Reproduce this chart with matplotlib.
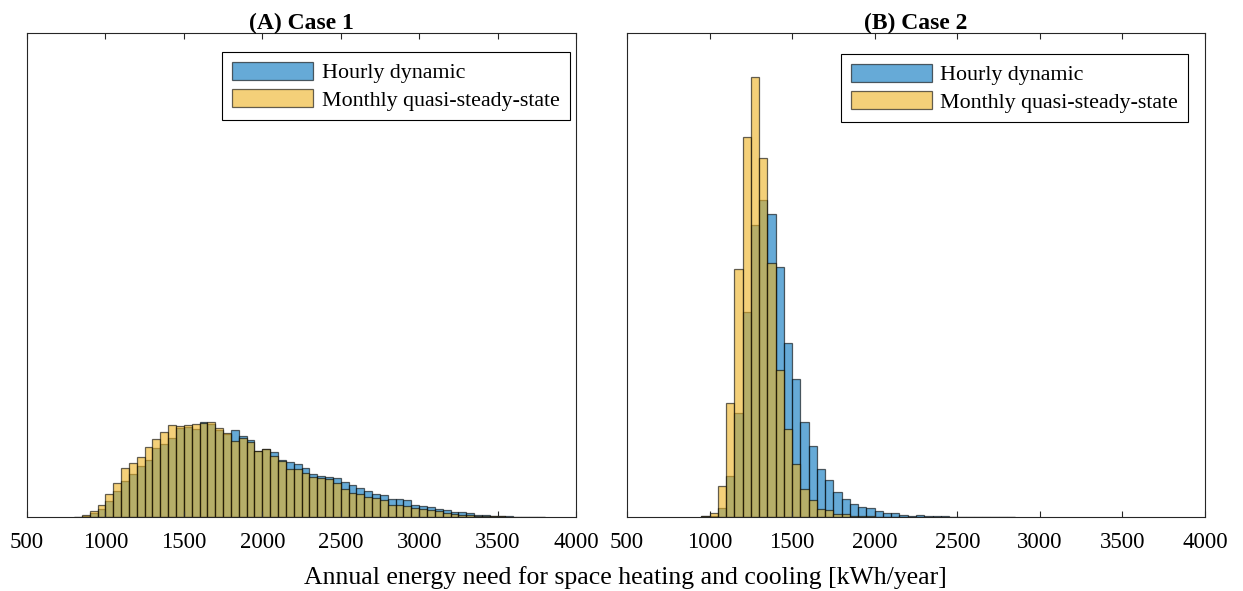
import numpy as np
import matplotlib
matplotlib.use("Agg")
import matplotlib.pyplot as plt

plt.rcParams['font.family'] = ['Liberation Serif', 'DejaVu Serif']

# bar heights (arbitrary units), bin width 50 kWh/year
bin_width = 50

# (A) Case 1, bins start at 800
case1_start = 800
case1_hourly = [0.3, 1.0, 4.0, 8.3, 15.7, 26, 35.7, 42.7, 51, 56.7, 69, 73, 79.3, 88.7, 90,
                88, 95.3, 93, 87.3, 82.7, 86.7, 81.3, 76.7, 66.3, 68.3, 65.3, 57.3, 54.7, 52.7,
                49, 43.3, 41.3, 40.3, 38.7, 34.7, 31.7, 28.7, 25.7, 23.3, 22, 18, 17.7, 16.7,
                12.3, 11, 10.3, 8.3, 7.3, 5, 4.7, 3.7, 2.3, 1.7, 1.3, 1, 1, 0.3, 0.2, 0.1, 0.2]
case1_monthly = [0.3, 2.0, 6.3, 12.3, 23.3, 34.3, 49, 54, 59.7, 70, 77.7, 84.7, 92.3, 90.7, 91.7,
                 92.7, 94, 94.7, 88.7, 83.7, 76.3, 79.3, 75.3, 66.3, 67.7, 60.7, 55.7, 48.3, 48.3,
                 43.7, 40, 39.3, 37.7, 34.3, 28.3, 24, 22.7, 19.7, 19.3, 16.7, 12.3, 12.3, 10.7,
                 9, 7.7, 7.3, 6, 4.3, 2.7, 2.3, 2, 1.3, 1, 0.7, 0.7, 0.3, 0.2, 0.1, 0, 0]

# (B) Case 2, bins start at 950
case2_start = 950
case2_hourly = [1.0, 1.5, 9.3, 40.7, 104.3, 204.7, 292, 317.3, 303.3, 250.3, 174, 138.3, 95.3,
                71, 48.3, 37.5, 25.5, 18, 13, 10, 9.3, 5.7, 3.7, 4.3, 2.3, 1.3, 2.3, 1.3, 1,
                0.7, 0.4, 0.3, 0.2, 0.1, 0.1, 0.1, 0.1, 0.3]
case2_monthly = [0.7, 4.3, 30.7, 114.3, 248, 380, 440, 359.3, 254, 147.3, 88.3, 53.3, 28.3,
                 16.7, 8.3, 7, 3.5, 3, 1.3, 1, 0.7, 0.3, 0.3, 0.2, 0.1, 0, 0, 0, 0,
                 0, 0, 0, 0, 0, 0, 0, 0, 0]

titles = ["(A) Case 1", "(B) Case 2"]
labels = ["Hourly dynamic", "Monthly quasi-steady-state"]
xticks = [500, 1000, 1500, 2000, 2500, 3000, 3500, 4000]

blue = (0, 0.447, 0.741)
yellow = (0.929, 0.694, 0.125)
axis_col = (0.15, 0.15, 0.15)

fig = plt.figure(figsize=(12.43, 5.91), dpi=100)
ax1 = fig.add_axes([27 / 1243, 1 - 517 / 591, 549 / 1243, 484 / 591])
ax2 = fig.add_axes([627 / 1243, 1 - 517 / 591, 578 / 1243, 484 / 591])

panels = [
    (ax1, case1_start, case1_hourly, case1_monthly, (0.989, 0.961)),
    (ax2, case2_start, case2_hourly, case2_monthly, (0.971, 0.957)),
]

for i, (ax, start, hourly, monthly, anchor) in enumerate(panels):
    edges = start + bin_width * np.arange(len(hourly))
    ax.bar(edges, hourly, width=bin_width, align='edge', color=blue, alpha=0.6,
           edgecolor='black', linewidth=0.9, label=labels[0])
    ax.bar(edges, monthly, width=bin_width, align='edge', color=yellow, alpha=0.6,
           edgecolor='black', linewidth=0.9, label=labels[1])
    # edges darker than the faces, as in the original
    for p in ax.patches:
        p.set_edgecolor((0, 0, 0, 0.9))

    ax.set_xlim(500, 4000)
    ax.set_ylim(0, 484)
    ax.set_xticks(xticks)
    ax.set_yticks([])
    ax.tick_params(axis='x', direction='in', top=True, bottom=True, length=4.5,
                   width=0.8, color=axis_col, labelsize=16.5, pad=10.5)
    for s in ax.spines.values():
        s.set_color(axis_col)
        s.set_linewidth(0.8)
    ax.set_title(titles[i], fontsize=17, fontweight='bold', pad=3)

    leg = ax.legend(loc='upper right', bbox_to_anchor=anchor, borderaxespad=0,
                    fontsize=15.8, fancybox=False, framealpha=1, edgecolor='black',
                    handlelength=3.7, handleheight=0.9, handletextpad=0.4,
                    labelspacing=0.25, borderpad=0.45)
    leg.get_frame().set_linewidth(0.8)

fig.text(0.503, 0.003, "Annual energy need for space heating and cooling [kWh/year]",
         ha='center', va='bottom', fontsize=18.5)

plt.savefig("out.png", dpi=100)
